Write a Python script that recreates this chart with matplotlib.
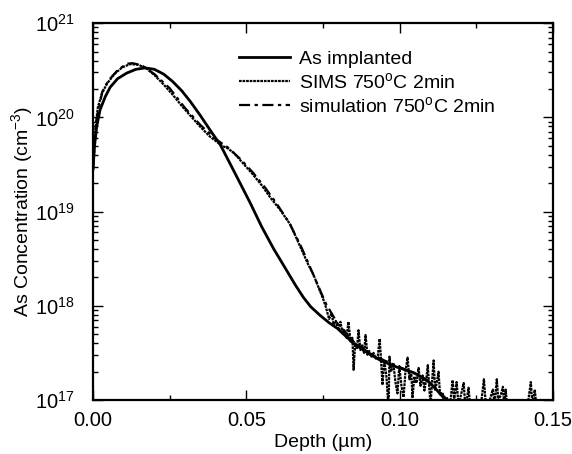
import numpy as np
import matplotlib
matplotlib.use("Agg")
import matplotlib.pyplot as plt
from matplotlib.ticker import LogLocator, MultipleLocator, FixedLocator

plt.rcParams["font.family"] = ["Liberation Sans", "DejaVu Sans"]
plt.rcParams["mathtext.fontset"] = "custom"
plt.rcParams["mathtext.rm"] = "Liberation Sans"
plt.rcParams["mathtext.it"] = "Liberation Sans:italic"

# depth in um, concentration as log10(cm^-3)
implant_depth = [0.0, 0.0005, 0.0012, 0.0023, 0.004, 0.0056, 0.008, 0.011, 0.014,
                 0.017, 0.020, 0.023, 0.026, 0.029, 0.0317, 0.035, 0.0385, 0.0415,
                 0.045, 0.048, 0.0513, 0.055, 0.059, 0.0627, 0.066, 0.0686, 0.071,
                 0.074, 0.077, 0.0797, 0.085, 0.090, 0.0938, 0.099, 0.1046, 0.109,
                 0.112, 0.115, 0.118]
implant_log = [19.45, 19.70, 19.90, 20.08, 20.22, 20.32, 20.41, 20.47, 20.51,
               20.525, 20.51, 20.46, 20.38, 20.28, 20.17, 20.02, 19.85, 19.71,
               19.49, 19.30, 19.09, 18.84, 18.60, 18.40, 18.22, 18.09, 17.99,
               17.90, 17.82, 17.76, 17.60, 17.49, 17.42, 17.35, 17.29, 17.21,
               17.11, 17.0, 16.9]

sims_depth = [0.0, 0.0005, 0.001, 0.0016, 0.003, 0.0046, 0.007, 0.0095, 0.0121,
              0.0145, 0.017, 0.020, 0.023, 0.026, 0.029, 0.0317, 0.035, 0.038,
              0.042, 0.044, 0.046, 0.049, 0.052, 0.055, 0.0578, 0.061, 0.0644,
              0.067, 0.0703, 0.0719, 0.0735, 0.0752,
              0.0760, 0.0770, 0.0778, 0.0785, 0.0792, 0.0800, 0.0807, 0.0814,
              0.0820, 0.0827, 0.0833, 0.0840, 0.0846, 0.0850, 0.0855, 0.0861,
              0.0866, 0.0872, 0.0878, 0.0884, 0.0889, 0.0895, 0.0901, 0.0908,
              0.0915, 0.0922, 0.0929, 0.0935, 0.0940, 0.0944, 0.0950, 0.0957,
              0.0964, 0.0967, 0.0972, 0.0980, 0.0986, 0.0993, 0.0999, 0.1006,
              0.1013, 0.1019, 0.1026, 0.1032, 0.1038, 0.1042, 0.1048, 0.1055,
              0.1062, 0.1068, 0.1075, 0.1081, 0.1087, 0.1092, 0.1097, 0.1101,
              0.1106, 0.1111, 0.1116, 0.1121, 0.1127, 0.1132, 0.1140, 0.1148,
              0.1155, 0.1163, 0.1173, 0.1178, 0.1186, 0.1192, 0.1200, 0.1209,
              0.1214, 0.1220, 0.1225, 0.1231, 0.1240, 0.1250, 0.1260, 0.1268,
              0.1275, 0.1280, 0.1288, 0.1296, 0.1304, 0.1310, 0.1317, 0.1322,
              0.1330, 0.1337, 0.1341, 0.1346, 0.1352, 0.1360, 0.1370, 0.1380,
              0.1390, 0.1400, 0.1410, 0.1420, 0.1428, 0.1433, 0.1441, 0.1447,
              0.1460, 0.1480]
sims_log = [19.45, 19.75, 19.95, 20.11, 20.26, 20.36, 20.46, 20.53, 20.565,
            20.56, 20.53, 20.45, 20.35, 20.24, 20.12, 20.02, 19.90, 19.80,
            19.70, 19.67, 19.62, 19.51, 19.40, 19.28, 19.15, 19.02, 18.86,
            18.67, 18.43, 18.33, 18.20, 18.06,
            17.98, 17.86, 17.92, 17.80, 17.84, 17.74, 17.83, 17.70,
            17.74, 17.66, 17.83, 17.62, 17.66, 17.32, 17.60, 17.55,
            17.74, 17.53, 17.58, 17.50, 17.69, 17.48, 17.52, 17.46,
            17.50, 17.44, 17.47, 17.65, 17.40, 17.16, 17.42, 17.25,
            16.90, 17.46, 17.30, 17.38, 17.20, 17.07, 17.36, 17.15,
            17.03, 17.30, 17.45, 17.22, 17.30, 17.02, 17.25, 17.18,
            17.34, 17.15, 17.26, 17.10, 17.22, 17.37, 17.12, 16.95,
            17.20, 17.42, 17.10, 17.18, 17.30, 17.05, 17.08, 16.95,
            17.02, 16.90, 17.21, 17.00, 17.19, 16.95, 17.05, 17.18,
            16.95, 17.02, 17.13, 16.90, 17.00, 16.95, 16.90, 17.02,
            17.22, 17.00, 16.90, 17.02, 17.11, 16.95, 17.22, 17.00,
            17.05, 17.14, 16.95, 17.11, 16.90, 17.00, 16.90, 17.00,
            16.95, 17.00, 16.90, 17.00, 17.19, 16.95, 17.11, 16.90,
            17.00, 16.90]

sim_depth = [0.0, 0.001, 0.003, 0.005, 0.008, 0.011, 0.013, 0.016, 0.020, 0.025,
             0.030, 0.035, 0.040, 0.044, 0.048, 0.052, 0.056, 0.060, 0.064, 0.068,
             0.072, 0.076, 0.080, 0.085, 0.090, 0.095, 0.100, 0.105, 0.110, 0.115,
             0.118]
sim_log = [19.45, 19.95, 20.27, 20.39, 20.50, 20.57, 20.575, 20.55, 20.46, 20.31,
           20.10, 19.92, 19.77, 19.68, 19.56, 19.42, 19.26, 19.08, 18.88, 18.62,
           18.32, 18.02, 17.80, 17.62, 17.50, 17.42, 17.35, 17.28, 17.18, 17.02,
           16.9]

fig = plt.figure(figsize=(5.72, 4.54), dpi=100)
ax = fig.add_axes([0.1626, 0.119, 0.804, 0.830])

ax.plot(implant_depth, 10 ** np.array(implant_log), color="black", lw=2.0,
        label="As implanted")
ax.plot(sims_depth, 10 ** np.array(sims_log), color="black", lw=1.6,
        ls=(0, (1.2, 0.4)), label="SIMS 750$^\\mathrm{o}$C 2min")
ax.plot(sim_depth, 10 ** np.array(sim_log), color="black", lw=1.6,
        ls=(0, (5, 2, 1.5, 2)), label="simulation 750$^\\mathrm{o}$C 2min")

ax.set_yscale("log")
ax.set_xlim(0, 0.15)
ax.set_ylim(1e17, 1e21)
ax.xaxis.set_major_locator(FixedLocator([0.0, 0.05, 0.10, 0.15]))
ax.xaxis.set_minor_locator(MultipleLocator(0.025))
ax.set_xticklabels(["0.00", "0.05", "0.10", "0.15"])
ax.yaxis.set_major_locator(LogLocator(base=10, numticks=10))
ax.yaxis.set_minor_locator(LogLocator(base=10, subs=np.arange(2, 10), numticks=10))
ax.tick_params(which="both", direction="in", top=True, right=True, labelsize=14.5,
               width=1.0)
ax.tick_params(which="major", length=7)
ax.tick_params(axis="y", which="major", pad=13)
ax.tick_params(axis="x", which="major", pad=8)
ax.tick_params(which="minor", length=3.5)
for s in ax.spines.values():
    s.set_linewidth(1.6)

ax.set_xlabel("Depth (\u00b5m)", fontsize=14, labelpad=3)
ax.set_ylabel("As Concentration (cm$^{-3}$)", fontsize=14, labelpad=0)

ax.legend(loc="upper left", bbox_to_anchor=(0.28, 0.975), frameon=False,
          fontsize=14, handlelength=2.6, labelspacing=0.22, handletextpad=0.45)

fig.savefig("out.png", dpi=100)
